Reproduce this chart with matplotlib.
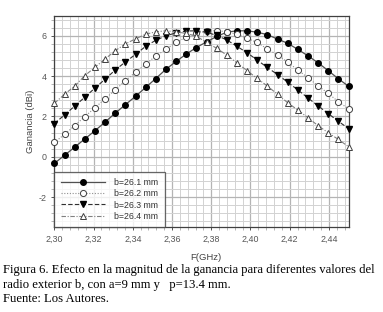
import matplotlib
matplotlib.use("Agg")
import matplotlib.pyplot as plt
from matplotlib.ticker import MultipleLocator, FuncFormatter

# frequency points (GHz)
freq = [2.3000, 2.3052, 2.3103, 2.3155, 2.3207, 2.3259, 2.3310, 2.3362, 2.3414, 2.3466,
        2.3517, 2.3569, 2.3621, 2.3672, 2.3724, 2.3776, 2.3828, 2.3879, 2.3931, 2.3983,
        2.4034, 2.4086, 2.4138, 2.4190, 2.4241, 2.4293, 2.4345, 2.4397, 2.4448, 2.4500]

# gain (dBi) for each outer radius b
g_261 = [-0.33, 0.07, 0.47, 0.88, 1.29, 1.72, 2.16, 2.58, 3.00, 3.44,
         3.88, 4.34, 4.73, 5.09, 5.42, 5.70, 5.97, 6.18, 6.25, 6.25,
         6.18, 6.06, 5.84, 5.63, 5.33, 5.01, 4.66, 4.27, 3.87, 3.50]
g_262 = [0.71, 1.11, 1.54, 1.99, 2.43, 2.88, 3.31, 3.77, 4.20, 4.59,
         5.00, 5.33, 5.68, 5.93, 6.12, 6.23, 6.26, 6.20, 6.08, 5.88,
         5.67, 5.35, 5.05, 4.69, 4.31, 3.92, 3.52, 3.14, 2.73, 2.38]
g_263 = [1.65, 2.07, 2.51, 2.95, 3.41, 3.85, 4.30, 4.70, 5.08, 5.48,
         5.78, 6.00, 6.15, 6.24, 6.25, 6.18, 6.02, 5.80, 5.48, 5.16,
         4.80, 4.43, 4.08, 3.70, 3.32, 2.92, 2.52, 2.14, 1.76, 1.40]
g_264 = [2.65, 3.10, 3.50, 4.02, 4.44, 4.85, 5.26, 5.60, 5.85, 6.08,
         6.20, 6.25, 6.20, 6.12, 5.98, 5.68, 5.38, 5.05, 4.66, 4.27,
         3.89, 3.51, 3.10, 2.68, 2.32, 1.94, 1.54, 1.19, 0.86, 0.50]

labels = ["b=26.1 mm", "b=26.2 mm", "b=26.3 mm", "b=26.4 mm"]

plt.rcParams['font.family'] = ['Liberation Sans', 'DejaVu Sans']

fig = plt.figure(figsize=(3.83, 3.12), dpi=100)
ax = fig.add_axes([0.1418, 0.2715, 0.7682, 0.6782])

ax.plot(freq, g_261, color='#505050', lw=0.9, ls='-', marker='o', ms=4.0,
        mfc='black', mec='black', label=labels[0], zorder=5, clip_on=False)
ax.plot(freq, g_262, color='#909090', lw=0.8, ls=(0, (1, 1.5)), marker='o', ms=4.4,
        mfc='white', mec='#404040', mew=0.7, label=labels[1], zorder=5, clip_on=False)
ax.plot(freq, g_263, color='#303030', lw=0.8, ls=(0, (4, 2)), marker='v', ms=4.4,
        mfc='black', mec='black', label=labels[2], zorder=5, clip_on=False)
ax.plot(freq, g_264, color='#808080', lw=0.8, ls=(0, (4, 1.5, 1, 1.5)), marker='^', ms=4.4,
        mfc='white', mec='#404040', mew=0.7, label=labels[3], zorder=5, clip_on=False)

ax.set_xlim(2.30, 2.45)
ax.set_ylim(-3.5, 7)
ax.xaxis.set_major_locator(MultipleLocator(0.02))
ax.xaxis.set_minor_locator(MultipleLocator(0.004))
ax.yaxis.set_major_locator(MultipleLocator(2))
ax.yaxis.set_minor_locator(MultipleLocator(0.4))
ax.xaxis.set_major_formatter(FuncFormatter(lambda v, p: f"{v:.2f}".replace('.', ',')))
ax.yaxis.set_major_formatter(FuncFormatter(lambda v, p: f"{v:.0f}"))

ax.grid(which='major', color='#b4b4b4', lw=0.9)
ax.grid(which='minor', color='#d2d2d2', lw=0.7)
ax.set_axisbelow(True)

for s in ax.spines.values():
    s.set_color('#404040')
    s.set_linewidth(0.9)

ax.tick_params(which='major', labelsize=6.4, colors='#555555', length=2.5, width=0.7, pad=2.8)
ax.tick_params(which='minor', colors='#aaaaaa', length=2, width=0.6)

ax.set_ylabel("Ganancia (dBi)", fontsize=6.8, color='#444444', labelpad=2.7)
fig.text(206 / 383, 1 - 258 / 312, "F(GHz)", fontsize=6.8, color='#444444',
         ha='center', va='center')

leg = ax.legend(loc='lower left', fontsize=6.3, handlelength=5.0, frameon=True,
                fancybox=False, borderaxespad=0.0, labelspacing=0.25,
                borderpad=0.75, handletextpad=1.1, numpoints=1)
leg.get_frame().set_edgecolor('#404040')
leg.get_frame().set_linewidth(0.9)
leg.set_zorder(10)
for t in leg.get_texts():
    t.set_color('#333333')

cap_font = ['Liberation Serif', 'DejaVu Serif']
fig.text(3 / 383, 1 - 270 / 312,
         "Figura 6. Efecto en la magnitud de la ganancia para diferentes valores del",
         fontsize=9.1, family=cap_font, va='center', ha='left')
fig.text(3 / 383, 1 - 285 / 312, "radio exterior b, con a=9 mm y   p=13.4 mm.",
         fontsize=9.1, family=cap_font, va='center', ha='left')
fig.text(3 / 383, 1 - 299 / 312, "Fuente: Los Autores.",
         fontsize=9.1, family=cap_font, va='center', ha='left')

fig.savefig("out.png", dpi=100)
